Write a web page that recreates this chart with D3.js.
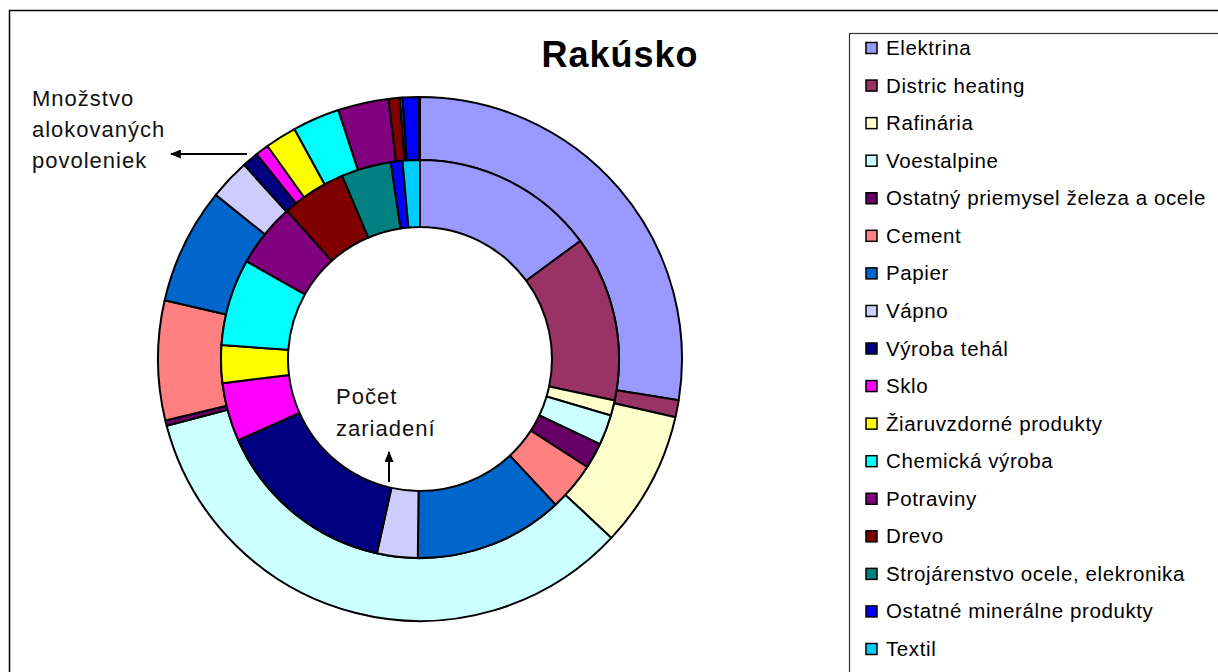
<!DOCTYPE html>
<html>
<head>
<meta charset="utf-8">
<script src="https://cdnjs.cloudflare.com/ajax/libs/d3/7.8.5/d3.min.js"></script>
<style>
  body { margin: 0; background: #fff; }
  text { font-family: "Liberation Sans", Arial, sans-serif; }
</style>
</head>
<body>
<script>
var categories = ['Elektrina', 'Distric heating', 'Rafinária', 'Voestalpine',
    'Ostatný priemysel železa a ocele', 'Cement', 'Papier', 'Vápno', 'Výroba tehál',
    'Sklo', 'Žiaruvzdorné produkty', 'Chemická výroba', 'Potraviny', 'Drevo',
    'Strojárenstvo ocele, elekronika', 'Ostatné minerálne produkty', 'Textil'];

var colors = ['#9999FF', '#993366', '#FFFFCC', '#CCFFFF', '#660066', '#FF8080',
    '#0066CC', '#CCCCFF', '#000080', '#FF00FF', '#FFFF00', '#00FFFF', '#800080',
    '#800000', '#008080', '#0000FF', '#00CCFF'];

// outer ring: množstvo alokovaných povoleniek (Mt CO2)
var allowances = [9.08, 0.35, 2.77, 11.2, 0.11, 2.43, 2.37, 0.83, 0.33,
    0.27, 0.64, 0.96, 1.03, 0.23, 0.055, 0.33, 0.02];

// inner ring: počet zariadení
var installations = [29.8, 26.9, 2.5, 4.9, 4.2, 7.9, 24.2, 6.6, 29.7,
    9.5, 6.1, 14.1, 10.4, 10.5, 8.1, 1.9, 2.8];

var width = 1218, height = 672,
    cx = 420, cy = 359;

var svg = d3.select('body').append('svg')
    .attr('width', width).attr('height', height);

// chart frame
svg.append('path')
    .attr('d', 'M9.5,' + height + 'V10.5H' + width)
    .attr('fill', 'none').attr('stroke', '#000').attr('stroke-width', 1.5);

svg.append('text')
    .attr('x', 620).attr('y', 67)
    .attr('text-anchor', 'middle')
    .attr('font-size', 36).attr('font-weight', 'bold')
    .attr('letter-spacing', 1)
    .text('Rakúsko');

var color = d3.scaleOrdinal().domain(categories).range(colors);

var pie = d3.pie().sort(null).value(function(d) { return d.v; });

function ring(values, r0, r1) {
    var data = categories.map(function(c, i) { return {name: c, v: values[i]}; });
    var arc = d3.arc().innerRadius(r0).outerRadius(r1);
    svg.append('g')
        .attr('transform', 'translate(' + cx + ',' + cy + ')')
        .selectAll('path')
        .data(pie(data))
        .enter().append('path')
        .attr('d', arc)
        .attr('fill', function(d) { return color(d.data.name); })
        .attr('stroke', '#000')
        .attr('stroke-width', 2)
        .attr('stroke-linejoin', 'round');
}

ring(allowances, 199, 262);
ring(installations, 132, 199);

// annotations
svg.append('defs').append('marker')
    .attr('id', 'arr').attr('viewBox', '0 0 10 10')
    .attr('refX', 9).attr('refY', 5)
    .attr('markerWidth', 11).attr('markerHeight', 9)
    .attr('markerUnits', 'userSpaceOnUse')
    .attr('orient', 'auto')
    .attr('preserveAspectRatio', 'none')
    .append('path').attr('d', 'M0,0L10,5L0,10z').attr('fill', '#000');

var ann1 = svg.append('text').attr('font-size', 22).attr('fill', '#111')
    .attr('letter-spacing', 1);
['Množstvo', 'alokovaných', 'povoleniek'].forEach(function(t, i) {
    ann1.append('tspan').attr('x', 32).attr('y', 106 + i * 31).text(t);
});
svg.append('line')
    .attr('x1', 247).attr('y1', 154).attr('x2', 171).attr('y2', 154)
    .attr('stroke', '#000').attr('stroke-width', 2)
    .attr('marker-end', 'url(#arr)');

var ann2 = svg.append('text').attr('font-size', 22).attr('fill', '#111')
    .attr('letter-spacing', 1);
['Počet', 'zariadení'].forEach(function(t, i) {
    ann2.append('tspan').attr('x', 336).attr('y', 404 + i * 32).text(t);
});
svg.append('line')
    .attr('x1', 389).attr('y1', 482).attr('x2', 389).attr('y2', 452)
    .attr('stroke', '#000').attr('stroke-width', 2)
    .attr('marker-end', 'url(#arr)');

// legend
var legend = svg.append('g');
legend.append('rect')
    .attr('x', 849.5).attr('y', 33.5)
    .attr('width', 400).attr('height', 700)
    .attr('fill', '#fff').attr('stroke', '#333').attr('stroke-width', 1.2);

var y = d3.scalePoint().domain(categories).range([48, 649]);

var item = legend.selectAll('g.item')
    .data(categories)
    .enter().append('g')
    .attr('class', 'item')
    .attr('transform', function(d) { return 'translate(0,' + y(d) + ')'; });

item.append('rect')
    .attr('x', 866).attr('y', -5.5)
    .attr('width', 11).attr('height', 11)
    .attr('fill', function(d) { return color(d); })
    .attr('stroke', '#000').attr('stroke-width', 1.5);

item.append('text')
    .attr('x', 886).attr('y', 7)
    .attr('font-size', 20.5)
    .attr('letter-spacing', 0.6)
    .text(function(d) { return d; });
</script>
</body>
</html>
